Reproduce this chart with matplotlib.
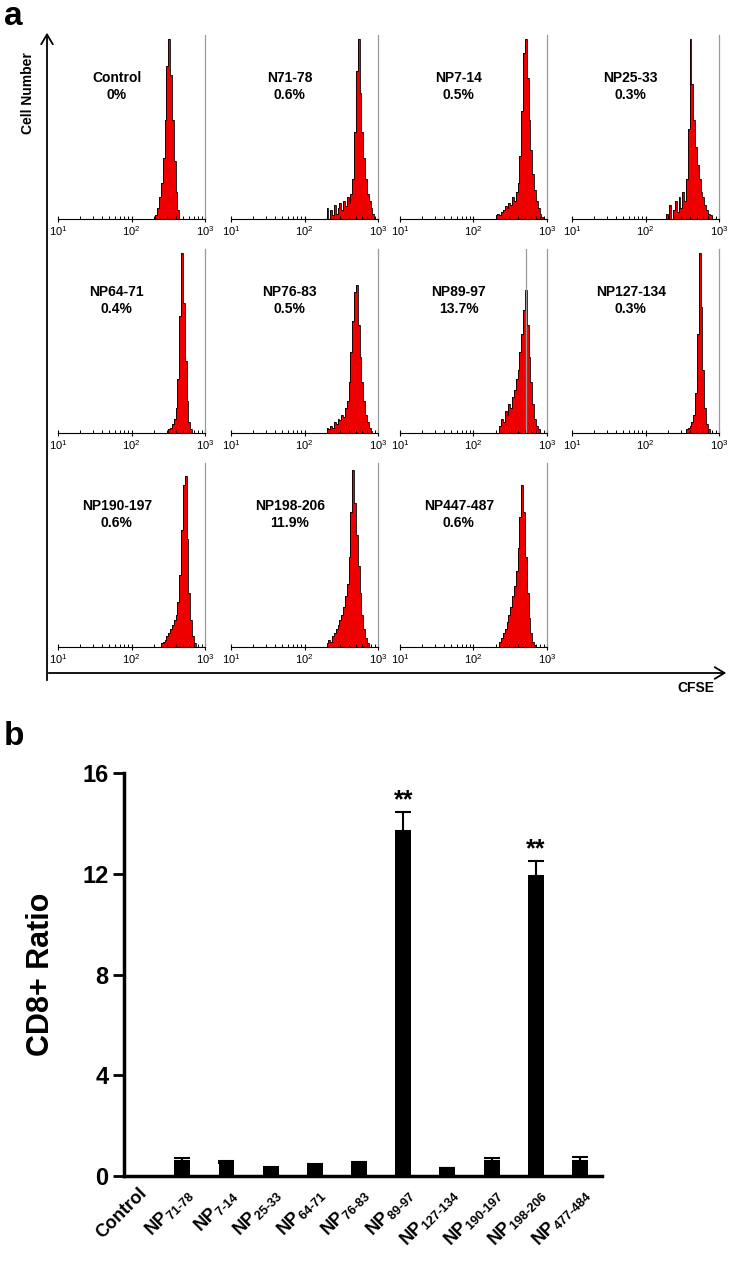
import numpy as np
import matplotlib
matplotlib.use('Agg')
import matplotlib.pyplot as plt
from matplotlib.patches import FancyArrowPatch
from matplotlib.ticker import LogLocator, NullFormatter

plt.rcParams['font.family'] = ['Liberation Sans', 'DejaVu Sans']
plt.rcParams['mathtext.default'] = 'regular'

W, H = 738, 1265

# ---- panel a: CFSE histograms ----
# counts per bin, bins in log10(CFSE) from 2.2 to 3.0 (step 0.025), tallest peak = 100
bin_edges_log = np.linspace(2.2, 3.0, 33)

control_counts = [0, 0, 0, 0, 0, 2, 6, 12, 20, 34, 55, 85, 100, 80, 55, 32,
                  15, 5, 0, 0, 0, 0, 0, 0, 0, 0, 0, 0, 0, 0, 0, 0]
n71_78_counts = [0, 0, 0, 0, 6, 0, 5, 2, 8, 3, 6, 9, 5, 10, 7, 12,
                 9, 14, 22, 48, 82, 100, 70, 48, 34, 22, 14, 10, 6, 3, 0, 0]
np7_14_counts = [0, 0, 0, 0, 2, 3, 2, 4, 5, 7, 6, 9, 8, 12, 10, 15,
                 20, 35, 60, 92, 100, 78, 55, 38, 25, 16, 10, 6, 3, 1, 0, 0]
np25_33_counts = [0, 0, 0, 3, 0, 8, 0, 5, 10, 4, 12, 6, 15, 10, 22, 50,
                  100, 75, 55, 40, 30, 22, 15, 12, 8, 5, 3, 2, 0, 0, 0, 0]
np64_71_counts = [0, 0, 0, 0, 0, 0, 0, 0, 0, 0, 0, 0, 2, 3, 5, 8,
                  14, 30, 65, 100, 72, 40, 18, 6, 2, 0, 0, 0, 0, 0, 0, 0]
np76_83_counts = [0, 0, 0, 0, 3, 2, 4, 3, 6, 5, 8, 7, 10, 9, 14, 18,
                  28, 45, 62, 78, 82, 60, 42, 28, 18, 10, 6, 3, 1, 0, 0, 0]
np89_97_counts = [0, 0, 0, 0, 0, 0, 4, 8, 6, 12, 10, 16, 14, 20, 24, 30,
                  35, 45, 55, 68, 79, 60, 42, 28, 16, 8, 4, 2, 0, 0, 0, 0]
np127_134_counts = [0, 0, 0, 0, 0, 0, 0, 0, 0, 0, 0, 0, 0, 0, 2, 3,
                    4, 6, 10, 22, 55, 100, 70, 35, 14, 5, 2, 0, 0, 0, 0, 0]
np190_197_counts = [0, 0, 0, 0, 0, 0, 0, 0, 2, 3, 4, 6, 8, 10, 12, 15,
                    18, 25, 40, 65, 90, 95, 60, 30, 15, 6, 2, 0, 0, 0, 0, 0]
np198_206_counts = [0, 0, 0, 0, 2, 4, 3, 6, 8, 10, 12, 15, 18, 22, 28, 35,
                    50, 75, 98, 80, 62, 45, 30, 18, 10, 5, 2, 0, 0, 0, 0, 0]
np447_487_counts = [0, 0, 0, 0, 0, 0, 3, 5, 8, 10, 14, 18, 22, 28, 34, 42,
                    55, 72, 90, 75, 50, 30, 16, 8, 3, 1, 0, 0, 0, 0, 0, 0]

hist_names = ['Control', 'N71-78', 'NP7-14', 'NP25-33', 'NP64-71', 'NP76-83',
              'NP89-97', 'NP127-134', 'NP190-197', 'NP198-206', 'NP447-487']
hist_pcts = ['0%', '0.6%', '0.5%', '0.3%', '0.4%', '0.5%',
             '13.7%', '0.3%', '0.6%', '11.9%', '0.6%']
hist_counts = [control_counts, n71_78_counts, np7_14_counts, np25_33_counts,
               np64_71_counts, np76_83_counts, np89_97_counts, np127_134_counts,
               np190_197_counts, np198_206_counts, np447_487_counts]
gate_log = 2.72  # extra gate line drawn in the NP89-97 panel

# ---- panel b: CD8+ ratio ----
bar_labels = ['Control', 'NP$_{71‐78}$', 'NP$_{7‐14}$', 'NP$_{25‐33}$',
              'NP$_{64‐71}$', 'NP$_{76‐83}$', 'NP$_{89‐97}$', 'NP$_{127‐134}$',
              'NP$_{190‐197}$', 'NP$_{198‐206}$', 'NP$_{477‐484}$']
bar_values = [0, 0.6, 0.5, 0.3, 0.4, 0.5, 13.7, 0.3, 0.6, 11.9, 0.6]
bar_errors = [0, 0.1, 0.08, 0.05, 0.06, 0.07, 0.75, 0.03, 0.1, 0.6, 0.15]
signif = {6: '**', 9: '**'}


def fx(px):
    return px / W


def fy(py):
    return 1 - py / H


fig = plt.figure(figsize=(W / 100, H / 100), dpi=100)

col_x = [58, 231, 400, 572]
row_base = [219, 433, 647]
pw, ph = 147, 184
edges = 10 ** bin_edges_log

for k, counts in enumerate(hist_counts):
    r, c = divmod(k, 4)
    ax = fig.add_axes([fx(col_x[c]), fy(row_base[r]), pw / W, ph / H])
    ax.set_xscale('log')
    ax.stairs(counts, edges, fill=True, color='#ee0000', lw=0)
    ax.stairs(counts, edges, color='black', lw=0.6)
    ax.axvline(1000, color='#9a9a9a', lw=0.9, clip_on=False)
    if hist_names[k] == 'NP89-97':
        ax.axvline(10 ** gate_log, color='#9a9a9a', lw=0.9)
    ax.set_xlim(10, 1000)
    ax.set_ylim(0, 102)
    for s in ['top', 'left', 'right']:
        ax.spines[s].set_visible(False)
    ax.spines['bottom'].set_linewidth(0.8)
    ax.set_yticks([])
    ax.set_xticks([10, 100, 1000])
    ax.set_xticklabels(['$10^1$', '$10^2$', '$10^3$'], fontsize=8)
    ax.xaxis.set_minor_locator(LogLocator(base=10, subs=range(2, 10)))
    ax.xaxis.set_minor_formatter(NullFormatter())
    ax.tick_params(axis='x', which='major', direction='inout', length=5,
                   width=0.8, pad=1)
    ax.tick_params(axis='x', which='minor', direction='in', length=2.5,
                   width=0.7)
    ax.text(0.40, 0.72, hist_names[k] + '\n' + hist_pcts[k], transform=ax.transAxes,
            ha='center', va='center', fontsize=10, fontweight='bold',
            linespacing=1.35)

# big axes arrows of panel a
arrow_style = '->,head_length=0.5,head_width=0.3'
fig.add_artist(FancyArrowPatch((fx(47), fy(683)), (fx(47), fy(30)),
                               transform=fig.transFigure, arrowstyle=arrow_style,
                               mutation_scale=14, lw=1.3, color='black'))
fig.add_artist(FancyArrowPatch((fx(46), fy(673)), (fx(729), fy(673)),
                               transform=fig.transFigure, arrowstyle=arrow_style,
                               mutation_scale=14, lw=1.3, color='black'))
fig.text(fx(28), fy(93), 'Cell Number', rotation=90, ha='center', va='center',
         fontsize=10, fontweight='bold')
fig.text(fx(696), fy(688), 'CFSE', ha='center', va='center',
         fontsize=10, fontweight='bold')
fig.text(fx(4), fy(25), 'a', ha='left', va='baseline', fontsize=24,
         fontweight='bold')
fig.text(fx(4), fy(745), 'b', ha='left', va='baseline', fontsize=24,
         fontweight='bold')

# ---- panel b ----
axb = fig.add_axes([fx(124), fy(1176), (602 - 124) / W, (1176 - 773) / H])
x = np.arange(len(bar_labels))
axb.bar(x, bar_values, width=0.36, color='black')
axb.errorbar(x[1:], bar_values[1:],
             yerr=[np.zeros(len(x) - 1), bar_errors[1:]],
             fmt='none', ecolor='black', elinewidth=1.5, capsize=6, capthick=1.5)
for i, s in signif.items():
    axb.text(x[i], bar_values[i] + bar_errors[i] + 0.2, s, ha='center',
             va='baseline', fontsize=18, fontweight='bold')
axb.set_xlim(-0.32, 10.5)
axb.set_ylim(0, 16)
axb.set_yticks([0, 4, 8, 12, 16])
axb.set_yticklabels(['0', '4', '8', '12', '16'], fontsize=17, fontweight='bold')
axb.set_xticks(x)
axb.set_xticklabels(bar_labels, rotation=45, ha='right', rotation_mode='anchor',
                    fontsize=13, fontweight='bold')
for s in ['top', 'right']:
    axb.spines[s].set_visible(False)
for s in ['left', 'bottom']:
    axb.spines[s].set_linewidth(2.5)
axb.tick_params(axis='y', direction='out', length=8, width=2, pad=3)
axb.tick_params(axis='x', length=0, pad=6)
fig.text(fx(41), fy(974), 'CD8+ Ratio', rotation=90, ha='center', va='center',
         fontsize=22, fontweight='bold')

fig.savefig('out.png', dpi=100)
